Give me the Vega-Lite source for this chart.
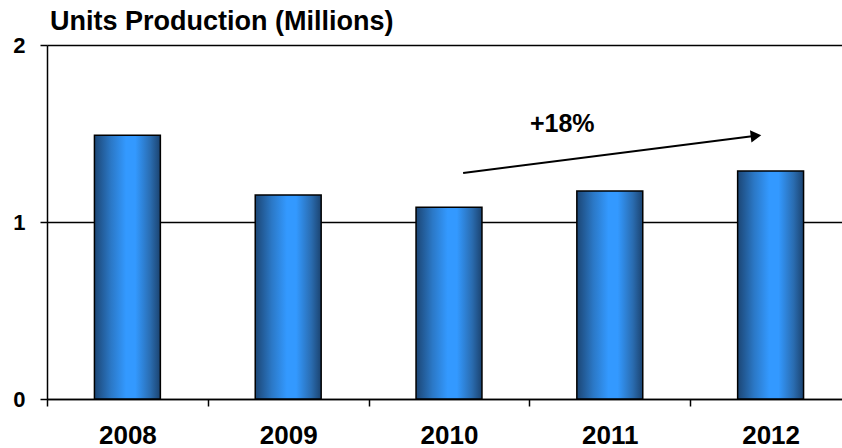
{
  "$schema": "https://vega.github.io/schema/vega-lite/v6.json",
  "autosize": "none",
  "width": 795,
  "height": 354,
  "padding": {"left": 47, "top": 45, "right": 0, "bottom": 49},
  "background": "white",
  "config": {"view": {"stroke": null}, "font": "Liberation Sans"},
  "title": {
    "text": "Units Production (Millions)",
    "anchor": "start",
    "frame": "group",
    "baseline": "alphabetic",
    "offset": 13,
    "dx": 3,
    "dy": 36,
    "font": "Liberation Sans",
    "fontSize": 27,
    "fontWeight": "bold",
    "color": "black"
  },
  "layer": [
    {
      "data": {"values": [
        {"year": "2008", "units": 1.49},
        {"year": "2009", "units": 1.153},
        {"year": "2010", "units": 1.083},
        {"year": "2011", "units": 1.175},
        {"year": "2012", "units": 1.288}
      ]},
      "mark": {
        "type": "bar",
        "width": {"band": 0.41},
        "stroke": "black",
        "strokeWidth": 1.5,
        "color": {
          "gradient": "linear",
          "x1": 0, "x2": 1, "y1": 0, "y2": 0,
          "stops": [
            {"offset": 0, "color": "#1c4675"},
            {"offset": 0.25, "color": "#2b78c6"},
            {"offset": 0.48, "color": "#3399ff"},
            {"offset": 0.62, "color": "#3399ff"},
            {"offset": 0.85, "color": "#2a6cb0"},
            {"offset": 1, "color": "#1b4370"}
          ]
        }
      },
      "encoding": {
        "x": {
          "field": "year", "type": "nominal",
          "scale": {"paddingInner": 0, "paddingOuter": 0, "range": [0, 804]},
          "axis": {
            "title": null,
            "labelAngle": 0,
            "tickBand": "extent",
            "labelFont": "Liberation Sans",
            "labelFontSize": 26,
            "labelFontWeight": "bold",
            "labelColor": "black",
            "labelPadding": 16,
            "domainColor": "black",
            "domainWidth": 1.5,
            "tickColor": "black",
            "tickWidth": 1.5,
            "tickSize": 7
          }
        },
        "y": {
          "field": "units", "type": "quantitative",
          "scale": {"domain": [0, 2], "nice": false},
          "axis": {
            "title": null,
            "values": [0, 1, 2],
            "format": ".0f",
            "labelOverlap": false,
            "grid": true,
            "gridColor": "black",
            "gridWidth": 1.5,
            "gridOpacity": 1,
            "labelFont": "Liberation Sans",
            "labelFontSize": 22,
            "labelFontWeight": "bold",
            "labelColor": "black",
            "labelPadding": 15,
            "domainColor": "black",
            "domainWidth": 1.5,
            "tickColor": "black",
            "tickWidth": 1.5,
            "tickSize": 7
          }
        }
      }
    },
    {
      "data": {"values": [
        {"x": 2.588, "y": 1.277, "x2": 4.409, "y2": 1.487}
      ]},
      "mark": {"type": "rule", "color": "black", "strokeWidth": 2},
      "encoding": {
        "x": {"field": "x", "type": "quantitative", "scale": {"domain": [0, 5], "range": [0, 804]}, "axis": null},
        "y": {"field": "y", "type": "quantitative"},
        "x2": {"field": "x2"},
        "y2": {"field": "y2"}
      }
    },
    {
      "data": {"values": [
        {"x": 4.409, "y": 1.487}
      ]},
      "mark": {"type": "point", "shape": "triangle-right", "filled": true, "color": "black", "opacity": 1, "size": 150, "angle": -7},
      "encoding": {
        "x": {"field": "x", "type": "quantitative", "scale": {"domain": [0, 5], "range": [0, 804]}, "axis": null},
        "y": {"field": "y", "type": "quantitative"}
      }
    },
    {
      "data": {"values": [
        {"x": 3.204, "y": 1.556, "label": "+18%"}
      ]},
      "mark": {"type": "text", "font": "Liberation Sans", "fontSize": 25, "fontWeight": "bold", "color": "black", "baseline": "middle", "align": "center"},
      "encoding": {
        "x": {"field": "x", "type": "quantitative", "scale": {"domain": [0, 5], "range": [0, 804]}, "axis": null},
        "y": {"field": "y", "type": "quantitative"},
        "text": {"field": "label"}
      }
    }
  ],
  "resolve": {"scale": {"x": "independent"}}
}
